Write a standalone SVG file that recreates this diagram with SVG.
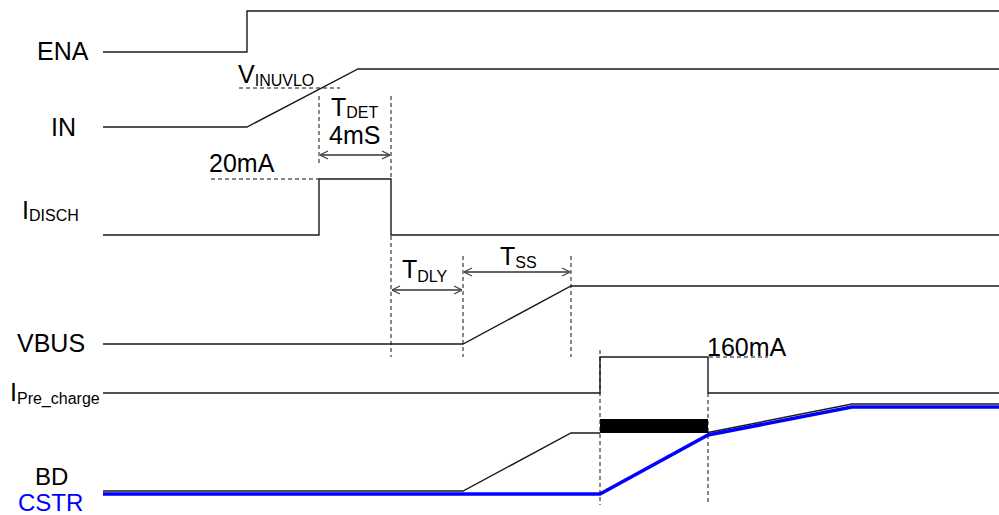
<svg xmlns="http://www.w3.org/2000/svg" width="999" height="515" viewBox="0 0 999 515">
<style>
text{font-family:"Liberation Sans",Arial,sans-serif;font-size:25px;fill:#000}
.sub{font-size:16px}
.lbl24{font-size:24px}
.sig{fill:none;stroke:#1a1a1a;stroke-width:1.4}
.dash{fill:none;stroke:#111;stroke-width:1;stroke-dasharray:4,3}
.arr{fill:none;stroke:#666;stroke-width:2;marker-start:url(#ah);marker-end:url(#ah)}
.blue{fill:none;stroke:#0000ff;stroke-width:3.5}
</style>
<defs>
<marker id="ah" viewBox="0 0 10 10" refX="10" refY="5" markerWidth="10" markerHeight="10" markerUnits="userSpaceOnUse" orient="auto-start-reverse">
<polyline points="2,1 10,5 2,9" fill="none" stroke="#444" stroke-width="1.2"/>
</marker>
</defs>
<rect width="999" height="515" fill="#fff"/>
<g id="ENA">
<text x="37" y="60">ENA</text>
<polyline class="sig" points="103,52 247,52 247,11 999,11"/>
</g>
<g id="IN">
<text x="51" y="136">IN</text>
<polyline class="sig" points="103,127 247,127 358,69 999,69"/>
<text x="238" y="83">V<tspan class="sub" dy="3">INUVLO</tspan></text>
</g>
<g id="IDISCH">
<text x="22" y="219">I<tspan class="sub" dy="2">DISCH</tspan></text>
<polyline class="sig" points="103,235 319,235 319,179 391,179 391,235 999,235"/>
<text x="209" y="172">20mA</text>
</g>
<g id="VBUS">
<text x="17" y="352">VBUS</text>
<polyline class="sig" points="103,344 463,344 571,286 999,286"/>
</g>
<g id="IPrecharge">
<text x="10" y="401">I<tspan class="sub" dy="3">Pre_charge</tspan></text>
<polyline class="sig" points="103,393 600,393 600,357 708,357 708,393 999,393"/>
<text x="707" y="356">160mA</text>
<rect x="600" y="419" width="108" height="14" fill="#000"/>
</g>
<g id="BD">
<text class="lbl24" x="35" y="485">BD</text>
<polyline class="sig" points="103,491 463,491 571,433 600,433"/>
<polyline class="sig" points="708,432.5 852,404 999,404"/>
</g>
<g id="CSTR">
<text class="lbl24" x="18" y="511" style="fill:#0000ff">CSTR</text>
<polyline class="blue" points="103,494 600,494 708,435 852,407 999,407"/>
</g>
<g id="connectors">
<line class="dash" x1="239" y1="88" x2="340" y2="88"/>
<line class="dash" x1="319" y1="96" x2="319" y2="164"/>
<line class="dash" x1="391" y1="96" x2="391" y2="178"/>
<line class="dash" x1="391" y1="236" x2="391" y2="357"/>
<line class="dash" x1="211" y1="179" x2="319" y2="179"/>
<line class="dash" x1="463" y1="256" x2="463" y2="357"/>
<line class="dash" x1="571" y1="256" x2="571" y2="357"/>
<line class="dash" x1="600" y1="350" x2="600" y2="505"/>
<line class="dash" x1="708" y1="393" x2="708" y2="503"/>
<line class="dash" x1="709" y1="357" x2="768" y2="357"/>
<line class="arr" x1="320" y1="155" x2="390" y2="155"/>
<text x="331" y="116">T<tspan class="sub" dy="2">DET</tspan></text>
<text x="329" y="144">4mS</text>
<line class="arr" x1="392" y1="290" x2="462" y2="290"/>
<text x="402" y="278">T<tspan class="sub" dy="4">DLY</tspan></text>
<line class="arr" x1="464" y1="272" x2="570" y2="272"/>
<text x="500" y="265">T<tspan class="sub" dy="3">SS</tspan></text>
</g>
</svg>
